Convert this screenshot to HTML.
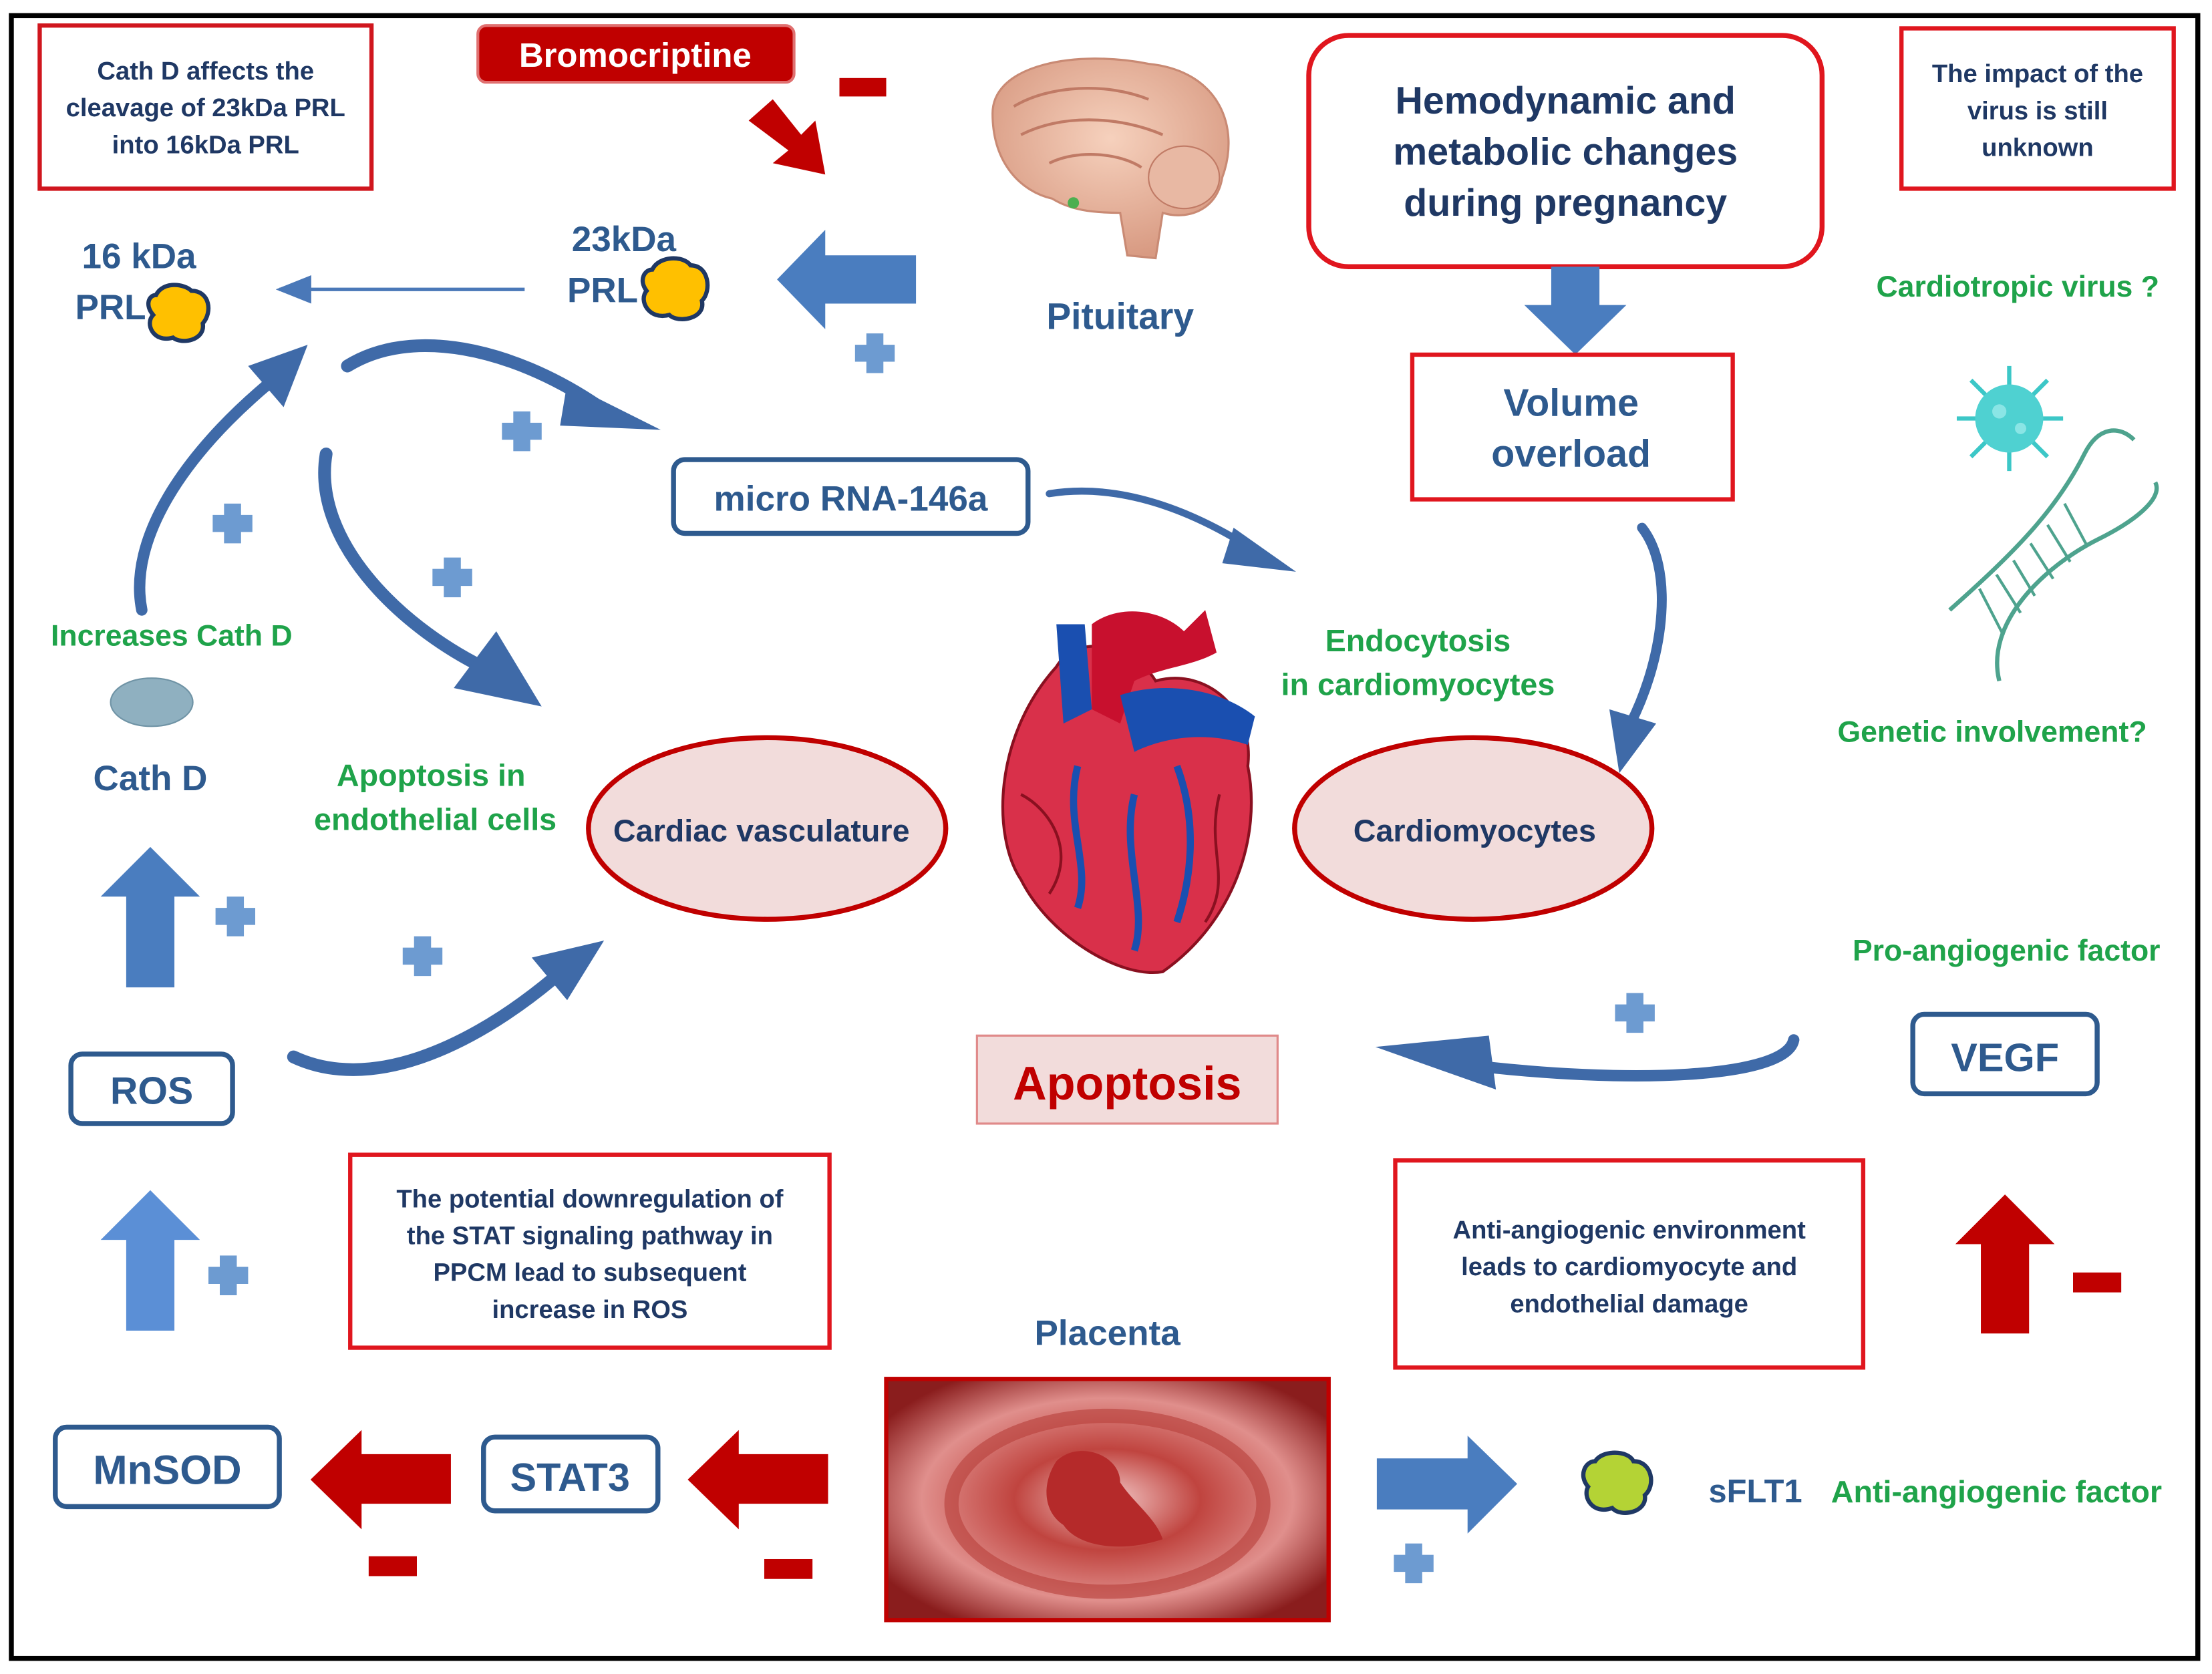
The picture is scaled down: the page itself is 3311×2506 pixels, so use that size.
<!DOCTYPE html>
<html><head><meta charset="utf-8">
<style>
html,body{margin:0;padding:0;background:#fff;}
svg{display:block;}
text{font-family:"Liberation Sans","DejaVu Sans",sans-serif;font-weight:bold;}
</style></head>
<body>
<svg width="3311" height="2506" viewBox="0 0 1560 1180" preserveAspectRatio="none" xmlns="http://www.w3.org/2000/svg">
<defs>
<marker id="ah" markerWidth="6" markerHeight="6" refX="5" refY="3" orient="auto" markerUnits="strokeWidth"><path d="M0,0 L6,3 L0,6 z" fill="#3f6aa8"/></marker>
<marker id="ahs" markerWidth="10" markerHeight="10" refX="9" refY="5" orient="auto" markerUnits="strokeWidth"><path d="M0,1 L10,5 L0,9 z" fill="#4a78b8"/></marker>
<radialGradient id="plac" cx="50%" cy="50%" r="60%"><stop offset="0" stop-color="#f3c9c8"/><stop offset="0.35" stop-color="#c0443f"/><stop offset="0.7" stop-color="#e08f8c"/><stop offset="1" stop-color="#8a1d1d"/></radialGradient>
<radialGradient id="brain" cx="50%" cy="40%" r="60%"><stop offset="0" stop-color="#f6d1bd"/><stop offset="1" stop-color="#d89a82"/></radialGradient>
</defs>
<rect x="0" y="0" width="1560" height="1180" fill="#fff"/>
<rect x="8" y="11" width="1542" height="1158" fill="none" stroke="#000" stroke-width="3.5"/>

<!-- Top-left box -->
<rect x="28" y="18" width="234" height="115" fill="#fff" stroke="#d0161e" stroke-width="3"/>
<text x="145" y="56" font-size="18" fill="#1f3864" text-anchor="middle">Cath D affects the</text>
<text x="145" y="82" font-size="18" fill="#1f3864" text-anchor="middle">cleavage of 23kDa PRL</text>
<text x="145" y="108" font-size="18" fill="#1f3864" text-anchor="middle">into 16kDa PRL</text>

<!-- Bromocriptine -->
<rect x="337" y="18" width="223" height="40" rx="6" fill="#c00000" stroke="#e07070" stroke-width="2"/>
<text x="448" y="47" font-size="24" fill="#fff" text-anchor="middle">Bromocriptine</text>
<rect x="592" y="55" width="33" height="13" fill="#c00000"/>
<path d="M528,85 L545,70 L565,95 L575,85 L582,123 L545,115 L556,106 Z" fill="#c00000"/>

<!-- Brain -->
<path d="M700,80 C700,45 760,35 810,45 C860,50 875,90 862,125 C858,150 835,155 820,150 L815,182 L795,180 L790,150 C770,150 755,148 742,140 C720,135 700,115 700,80 Z" fill="url(#brain)" stroke="#c98a74" stroke-width="1.5"/>
<path d="M715,75 C740,60 780,58 810,70 M720,95 C750,80 790,82 820,95 M740,115 C760,105 790,108 805,118" fill="none" stroke="#c07a65" stroke-width="2"/>
<ellipse cx="835" cy="125" rx="25" ry="22" fill="#e8b8a3" stroke="#c07a65"/>
<circle cx="757" cy="143" r="4" fill="#4caf50"/>
<text x="790" y="232" font-size="26" fill="#2e5a8e" text-anchor="middle">Pituitary</text>

<!-- Hemodynamic -->
<rect x="923" y="25" width="362" height="163" rx="28" fill="#fff" stroke="#e0161e" stroke-width="3.5"/>
<text x="1104" y="80" font-size="27" fill="#1f3864" text-anchor="middle">Hemodynamic and</text>
<text x="1104" y="116" font-size="27" fill="#1f3864" text-anchor="middle">metabolic changes</text>
<text x="1104" y="152" font-size="27" fill="#1f3864" text-anchor="middle">during pregnancy</text>
<path d="M1094,188 L1128,188 L1128,215 L1147,215 L1111,250 L1075,215 L1094,215 Z" fill="#4a7dbf"/>
<rect x="996" y="250" width="226" height="102" fill="#fff" stroke="#e0161e" stroke-width="3"/>
<text x="1108" y="293" font-size="27" fill="#2e5a8e" text-anchor="middle">Volume</text>
<text x="1108" y="329" font-size="27" fill="#2e5a8e" text-anchor="middle">overload</text>

<!-- impact box -->
<rect x="1341" y="20" width="192" height="113" fill="#fff" stroke="#e0161e" stroke-width="3"/>
<text x="1437" y="58" font-size="18" fill="#1f3864" text-anchor="middle">The impact of the</text>
<text x="1437" y="84" font-size="18" fill="#1f3864" text-anchor="middle">virus is still</text>
<text x="1437" y="110" font-size="18" fill="#1f3864" text-anchor="middle">unknown</text>
<text x="1423" y="209" font-size="21" fill="#1fa34a" text-anchor="middle">Cardiotropic virus ?</text>

<!-- virus -->
<g stroke="#3cc7c7" stroke-width="3">
<line x1="1380" y1="295" x2="1455" y2="295"/><line x1="1417" y1="258" x2="1417" y2="332"/>
<line x1="1390" y1="268" x2="1444" y2="322"/><line x1="1444" y1="268" x2="1390" y2="322"/>
</g>
<circle cx="1417" cy="295" r="24" fill="#4fd1d1"/>
<circle cx="1410" cy="290" r="5" fill="#8ae5e5"/><circle cx="1425" cy="302" r="4" fill="#8ae5e5"/>
<!-- DNA -->
<path d="M1375,430 C1420,390 1450,360 1470,320 C1480,300 1495,300 1505,310" fill="none" stroke="#4ea38e" stroke-width="3"/>
<path d="M1410,480 C1400,440 1440,400 1480,380 C1510,365 1525,350 1520,340" fill="none" stroke="#4ea38e" stroke-width="3"/>
<g stroke="#4ea38e" stroke-width="2">
<line x1="1420" y1400="0" y1="395" x2="1435" y2="420"/><line x1="1432" y1="383" x2="1448" y2="408"/><line x1="1444" y1="370" x2="1460" y2="396"/><line x1="1456" y1="355" x2="1472" y2="385"/><line x1="1408" y1="405" x2="1425" y2="432"/><line x1="1396" y1="415" x2="1413" y2="448"/>
</g>
<text x="1405" y="523" font-size="21" fill="#1fa34a" text-anchor="middle">Genetic involvement?</text>

<!-- PRL -->
<text x="98" y="189" font-size="25" fill="#2e5a8e" text-anchor="middle">16 kDa</text>
<text x="78" y="225" font-size="25" fill="#2e5a8e" text-anchor="middle">PRL</text>
<path d="M110,208 C115,198 130,200 135,205 C148,205 150,220 143,228 C145,240 128,243 122,238 C108,242 102,228 108,222 C102,215 105,208 110,208 Z" fill="#ffc000" stroke="#1f3864" stroke-width="3"/>
<text x="440" y="177" font-size="25" fill="#2e5a8e" text-anchor="middle">23kDa</text>
<text x="425" y="213" font-size="25" fill="#2e5a8e" text-anchor="middle">PRL</text>
<path d="M460,190 C465,180 482,180 487,187 C500,187 502,205 495,212 C498,225 478,228 472,222 C458,226 450,212 456,205 C450,197 455,190 460,190 Z" fill="#ffc000" stroke="#1f3864" stroke-width="3"/>
<line x1="370" y1="204" x2="197" y2="204" stroke="#4a78b8" stroke-width="2.5" marker-end="url(#ahs)"/>
<path d="M646,180 L646,214 L582,214 L582,232 L548,197 L582,162 L582,180 Z" fill="#4a7dbf"/>

<!-- plus sign helper -->
<g fill="#6d9bd1">
<path d="M611,235 h12 v8 h8 v12 h-8 v8 h-12 v-8 h-8 v-12 h8 z"/>
<path d="M362,290 h12 v8 h8 v12 h-8 v8 h-12 v-8 h-8 v-12 h8 z"/>
<path d="M158,355 h12 v8 h8 v12 h-8 v8 h-12 v-8 h-8 v-12 h8 z"/>
<path d="M313,393 h12 v8 h8 v12 h-8 v8 h-12 v-8 h-8 v-12 h8 z"/>
<path d="M160,632 h12 v8 h8 v12 h-8 v8 h-12 v-8 h-8 v-12 h8 z"/>
<path d="M292,660 h12 v8 h8 v12 h-8 v8 h-12 v-8 h-8 v-12 h8 z"/>
<path d="M1147,700 h12 v8 h8 v12 h-8 v8 h-12 v-8 h-8 v-12 h8 z"/>
<path d="M155,885 h12 v8 h8 v12 h-8 v8 h-12 v-8 h-8 v-12 h8 z"/>
<path d="M991,1088 h12 v8 h8 v12 h-8 v8 h-12 v-8 h-8 v-12 h8 z"/>
</g>

<!-- curved arrows -->
<path d="M245,258 C290,230 360,245 420,285" fill="none" stroke="#3f6aa8" stroke-width="9" stroke-linecap="round"/>
<path d="M400,270 L466,303 L395,300 Z" fill="#3f6aa8"/>
<path d="M100,430 C90,380 130,320 190,270" fill="none" stroke="#3f6aa8" stroke-width="8" stroke-linecap="round"/>
<path d="M175,258 L217,243 L200,287 Z" fill="#3f6aa8"/>
<path d="M230,320 C220,380 280,440 340,470" fill="none" stroke="#3f6aa8" stroke-width="9" stroke-linecap="round"/>
<path d="M350,445 L382,498 L320,485 Z" fill="#3f6aa8"/>
<path d="M740,348 C790,340 840,360 880,385" fill="none" stroke="#3f6aa8" stroke-width="5" stroke-linecap="round"/>
<path d="M870,372 L914,403 L862,397 Z" fill="#3f6aa8"/>
<path d="M1158,372 C1180,400 1175,460 1150,510" fill="none" stroke="#3f6aa8" stroke-width="7" stroke-linecap="round"/>
<path d="M1135,500 L1142,545 L1168,510 Z" fill="#3f6aa8"/>
<path d="M207,745 C260,770 330,740 390,690" fill="none" stroke="#3f6aa8" stroke-width="9" stroke-linecap="round"/>
<path d="M375,675 L426,663 L400,705 Z" fill="#3f6aa8"/>
<path d="M1265,733 C1260,760 1150,765 1030,750" fill="none" stroke="#3f6aa8" stroke-width="8" stroke-linecap="round"/>
<path d="M1050,730 L970,738 L1055,768 Z" fill="#3f6aa8"/>

<!-- micro RNA -->
<rect x="475" y="324" width="250" height="52" rx="8" fill="#fff" stroke="#2e5a8e" stroke-width="3.5"/>
<text x="600" y="360" font-size="25" fill="#2e5a8e" text-anchor="middle">micro RNA-146a</text>

<text x="121" y="455" font-size="21" fill="#1fa34a" text-anchor="middle">Increases Cath D</text>
<ellipse cx="107" cy="495" rx="29" ry="17" fill="#8fb0c0" stroke="#6f93a5"/>
<text x="106" y="557" font-size="25" fill="#2e5a8e" text-anchor="middle">Cath D</text>
<text x="304" y="554" font-size="22" fill="#1fa34a" text-anchor="middle">Apoptosis in</text>
<text x="307" y="585" font-size="22" fill="#1fa34a" text-anchor="middle">endothelial cells</text>
<text x="1000" y="459" font-size="22" fill="#1fa34a" text-anchor="middle">Endocytosis</text>
<text x="1000" y="490" font-size="22" fill="#1fa34a" text-anchor="middle">in cardiomyocytes</text>

<!-- ellipses -->
<ellipse cx="541" cy="584" rx="126" ry="64" fill="#f2dcdb" stroke="#c00000" stroke-width="3.5"/>
<text x="537" y="593" font-size="22" fill="#1f3864" text-anchor="middle">Cardiac vasculature</text>
<ellipse cx="1039" cy="584" rx="126" ry="64" fill="#f2dcdb" stroke="#c00000" stroke-width="3.5"/>
<text x="1040" y="593" font-size="22" fill="#1f3864" text-anchor="middle">Cardiomyocytes</text>

<!-- heart -->
<path d="M745,470 C760,445 800,455 815,480 C850,470 885,500 880,540 C890,590 870,650 820,685 C790,690 740,660 720,620 C700,590 700,520 745,470 Z" fill="#d9304a" stroke="#8a1020" stroke-width="2"/>
<path d="M745,440 L765,440 L770,500 L750,510 Z" fill="#1a4fb0"/>
<path d="M770,440 C790,425 820,430 835,445 L850,430 L858,460 C840,470 820,470 800,480 L790,510 L770,500 Z" fill="#c8102e"/>
<path d="M790,490 C820,480 860,485 885,505 L880,525 C850,515 820,520 800,530 Z" fill="#1a4fb0"/>
<path d="M800,560 C790,600 810,640 800,670 M760,540 C750,580 770,610 760,640 M830,540 C845,580 840,620 830,650" fill="none" stroke="#1a4fb0" stroke-width="5"/>
<path d="M720,560 C740,570 760,600 740,630 M860,560 C850,600 870,620 850,650" fill="none" stroke="#8a1020" stroke-width="2"/>

<!-- Apoptosis -->
<rect x="689" y="730" width="212" height="62" fill="#f2dcdb" stroke="#e08a8a" stroke-width="1.5"/>
<text x="795" y="775" font-size="33" fill="#c00000" text-anchor="middle">Apoptosis</text>

<text x="1415" y="677" font-size="21" fill="#1fa34a" text-anchor="middle">Pro-angiogenic factor</text>
<rect x="1349" y="715" width="130" height="56" rx="8" fill="#fff" stroke="#2e5a8e" stroke-width="3.5"/>
<text x="1414" y="755" font-size="28" fill="#2e5a8e" text-anchor="middle">VEGF</text>

<!-- left arrows -->
<path d="M89,696 L123,696 L123,632 L141,632 L106,597 L71,632 L89,632 Z" fill="#4a7dbf"/>
<rect x="50" y="743" width="114" height="49" rx="8" fill="#fff" stroke="#2e5a8e" stroke-width="3.5"/>
<text x="107" y="778" font-size="27" fill="#2e5a8e" text-anchor="middle">ROS</text>
<path d="M89,938 L123,938 L123,874 L141,874 L106,839 L71,874 L89,874 Z" fill="#5b8fd6"/>

<rect x="247" y="814" width="338" height="136" fill="#fff" stroke="#e0161e" stroke-width="3"/>
<text x="416" y="851" font-size="18" fill="#1f3864" text-anchor="middle">The potential downregulation of</text>
<text x="416" y="877" font-size="18" fill="#1f3864" text-anchor="middle">the STAT signaling pathway in</text>
<text x="416" y="903" font-size="18" fill="#1f3864" text-anchor="middle">PPCM lead to subsequent</text>
<text x="416" y="929" font-size="18" fill="#1f3864" text-anchor="middle">increase in ROS</text>

<rect x="984" y="818" width="330" height="146" fill="#fff" stroke="#e0161e" stroke-width="3"/>
<text x="1149" y="873" font-size="18" fill="#1f3864" text-anchor="middle">Anti-angiogenic environment</text>
<text x="1149" y="899" font-size="18" fill="#1f3864" text-anchor="middle">leads to cardiomyocyte and</text>
<text x="1149" y="925" font-size="18" fill="#1f3864" text-anchor="middle">endothelial damage</text>

<path d="M1397,940 L1431,940 L1431,877 L1449,877 L1414,842 L1379,877 L1397,877 Z" fill="#c00000"/>
<rect x="1462" y="897" width="34" height="14" fill="#c00000"/>

<!-- Placenta -->
<text x="781" y="948" font-size="25" fill="#2e5a8e" text-anchor="middle">Placenta</text>
<rect x="625" y="972" width="312" height="170" fill="url(#plac)" stroke="#c00000" stroke-width="3"/>
<ellipse cx="781" cy="1060" rx="110" ry="62" fill="none" stroke="#b8403b" stroke-width="10" opacity="0.6"/>
<path d="M745,1030 C760,1015 790,1025 790,1045 C800,1060 815,1070 820,1085 C790,1095 760,1090 750,1075 C735,1065 735,1045 745,1030 Z" fill="#b52a2a"/>

<!-- bottom left -->
<rect x="39" y="1006" width="158" height="56" rx="8" fill="#fff" stroke="#2e5a8e" stroke-width="3.5"/>
<text x="118" y="1046" font-size="29" fill="#2e5a8e" text-anchor="middle">MnSOD</text>
<path d="M318,1025 L318,1060 L255,1060 L255,1078 L219,1043 L255,1008 L255,1025 Z" fill="#c00000"/>
<rect x="260" y="1097" width="34" height="14" fill="#c00000"/>
<rect x="341" y="1013" width="123" height="52" rx="8" fill="#fff" stroke="#2e5a8e" stroke-width="3.5"/>
<text x="402" y="1051" font-size="28" fill="#2e5a8e" text-anchor="middle">STAT3</text>
<path d="M584,1025 L584,1060 L521,1060 L521,1078 L485,1043 L521,1008 L521,1025 Z" fill="#c00000"/>
<rect x="539" y="1099" width="34" height="14" fill="#c00000"/>

<!-- bottom right -->
<path d="M971,1028 L1035,1028 L1035,1012 L1070,1046 L1035,1081 L1035,1064 L971,1064 Z" fill="#4a7dbf"/>
<path d="M1125,1030 C1130,1022 1148,1022 1152,1030 C1165,1030 1168,1047 1160,1054 C1162,1066 1143,1070 1137,1063 C1123,1068 1116,1055 1120,1048 C1113,1040 1118,1030 1125,1030 Z" fill="#b4d335" stroke="#1f3864" stroke-width="3"/>
<text x="1238" y="1059" font-size="23" fill="#2e5a8e" text-anchor="middle">sFLT1</text>
<text x="1408" y="1059" font-size="22" fill="#1fa34a" text-anchor="middle">Anti-angiogenic factor</text>
</svg>
</body></html>
